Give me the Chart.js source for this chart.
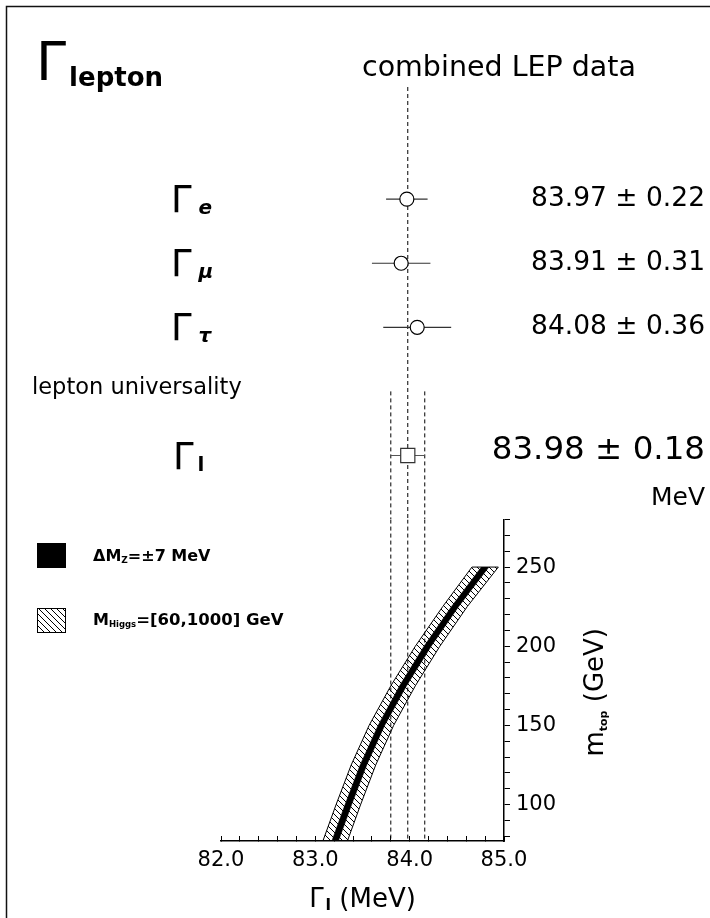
<!DOCTYPE html>
<html><head><meta charset="utf-8">
<script src="https://cdn.jsdelivr.net/npm/chart.js@4.4.1/dist/chart.umd.min.js"></script>
<style>html,body{margin:0;padding:0;background:#fff;}canvas{display:block;}</style>
</head><body>
<canvas id="c" width="710" height="918"></canvas>
<script>
// ---------------- data ----------------
const measNames   = ['e', 'μ', 'τ'];
const measValues  = [83.97, 83.91, 84.08];
const measErrors  = [0.22, 0.31, 0.36];
const measRows    = [0, 1, 2];
const universalityRow = 3;
const combinedName  = 'l';
const combinedValue = 83.98;
const combinedError = 0.18;
const combinedRow   = 4;

const mtopValues    = [77, 100, 125, 150, 175, 200, 225, 250];
const higgsBandLow  = [83.08, 83.22, 83.38, 83.57, 83.80, 84.06, 84.35, 84.66];
const higgsBandHigh = [83.34, 83.48, 83.64, 83.83, 84.06, 84.32, 84.61, 84.94];
const mzBandLow     = [83.175, 83.315, 83.475, 83.665, 83.893, 84.152, 84.442, 84.760];
const mzBandHigh    = [83.245, 83.385, 83.545, 83.735, 83.967, 84.228, 84.518, 84.840];

const xTickLabels = ['82.0', '83.0', '84.0', '85.0'];
const yTickLabels = ['100', '150', '200', '250'];

// ---------------- style ----------------
const FONT = "'DejaVu Sans', sans-serif";
const X_MIN = 82, X_MAX = 85, Y_MIN = 77, Y_MAX = 280, ROW_MIN = -1.75, ROW_MAX = 5;

function makeHatch() {
  const s = 6, c = document.createElement('canvas');
  c.width = s; c.height = s;
  const g = c.getContext('2d');
  g.strokeStyle = '#000'; g.lineWidth = 1;
  g.beginPath();
  g.moveTo(0, 0); g.lineTo(s, s);
  g.moveTo(-1, s - 1); g.lineTo(1, s + 1);
  g.moveTo(s - 1, -1); g.lineTo(s + 1, 1);
  g.stroke();
  return document.getElementById('c').getContext('2d').createPattern(c, 'repeat');
}
const hatch = makeHatch();

const pts = (xs, ys) => xs.map((x, i) => ({x, y: ys[i]}));

const datasets = [];
datasets.push({label: 'measurements', data: measValues.map((v, i) => ({x: v, y: measRows[i]})),
  yAxisID: 'row', showLine: false, pointStyle: 'circle', pointRadius: 7, pointBorderWidth: 1.2,
  pointBackgroundColor: '#fff', pointBorderColor: '#000', order: 0});
datasets.push({label: 'lepton universality', data: [{x: combinedValue, y: combinedRow}],
  yAxisID: 'row', showLine: false, pointStyle: 'rect', pointRadius: 10, pointBorderWidth: 1.2,
  pointBackgroundColor: '#fff', pointBorderColor: '#333', order: 0});
measValues.forEach((v, i) => datasets.push({label: 'err ' + measNames[i],
  data: [{x: v - measErrors[i], y: measRows[i]}, {x: v + measErrors[i], y: measRows[i]}],
  yAxisID: 'row', borderColor: '#333', borderWidth: 1.2, pointRadius: 0, order: 1}));
datasets.push({label: 'err combined',
  data: [{x: combinedValue - combinedError, y: combinedRow}, {x: combinedValue + combinedError, y: combinedRow}],
  yAxisID: 'row', borderColor: '#555', borderWidth: 1.2, pointRadius: 0, order: 1});
// dashed reference lines (central value and +-1 sigma)
const dashed = {borderColor: '#000', borderWidth: 1, borderDash: [4, 3], pointRadius: 0, order: 2};
datasets.push(Object.assign({label: 'central upper', yAxisID: 'row',
  data: [{x: combinedValue, y: ROW_MIN}, {x: combinedValue, y: ROW_MAX}]}, dashed));
datasets.push(Object.assign({label: 'central lower', yAxisID: 'y',
  data: [{x: combinedValue, y: Y_MAX}, {x: combinedValue, y: Y_MIN}]}, dashed));
[-1, 1].forEach(sgn => {
  const xv = combinedValue + sgn * combinedError;
  datasets.push(Object.assign({label: 'sigma upper', yAxisID: 'row',
    data: [{x: xv, y: universalityRow}, {x: xv, y: ROW_MAX}]}, dashed));
  datasets.push(Object.assign({label: 'sigma lower', yAxisID: 'y',
    data: [{x: xv, y: Y_MAX}, {x: xv, y: Y_MIN}]}, dashed));
});
// SM prediction bands
datasets.push({label: 'ΔMZ low', indexAxis: 'y', yAxisID: 'y', data: pts(mzBandLow, mtopValues),
  borderColor: '#000', borderWidth: 0.5, pointRadius: 0, fill: false, order: 3});
datasets.push({label: 'ΔMZ = ±7 MeV', indexAxis: 'y', yAxisID: 'y', data: pts(mzBandHigh, mtopValues),
  borderColor: '#000', borderWidth: 0.5, pointRadius: 0, fill: '-1', backgroundColor: '#000', order: 3});
datasets.push({label: 'MHiggs low', indexAxis: 'y', yAxisID: 'y', data: pts(higgsBandLow, mtopValues),
  borderColor: '#000', borderWidth: 1, pointRadius: 0, fill: false, order: 4});
datasets.push({label: 'MHiggs = [60,1000] GeV', indexAxis: 'y', yAxisID: 'y', data: pts(higgsBandHigh, mtopValues),
  borderColor: '#000', borderWidth: 1, pointRadius: 0, fill: '-1', backgroundColor: hatch, order: 4});
const last = mtopValues.length - 1;
datasets.push({label: 'band top', yAxisID: 'y',
  data: [{x: higgsBandLow[last], y: mtopValues[last]}, {x: higgsBandHigh[last], y: mtopValues[last]}],
  borderColor: '#000', borderWidth: 1, pointRadius: 0, order: 4});

function drawRich(ctx, parts, x, y, align) {
  let w = 0;
  parts.forEach(p => { ctx.font = p.font; p.w = ctx.measureText(p.text).width + (p.gap || 0); w += p.w; });
  let cx = align === 'right' ? x - w : align === 'center' ? x - w / 2 : x;
  ctx.textAlign = 'left'; ctx.textBaseline = 'alphabetic';
  parts.forEach(p => { ctx.font = p.font; ctx.fillText(p.text, cx + (p.gap || 0), y + (p.dy || 0)); cx += p.w; });
}
const f = (size, style) => (style ? style + ' ' : '') + size + 'px ' + FONT;

const textPlugin = {
  id: 'texts',
  afterDraw(chart) {
    const ctx = chart.ctx, row = chart.scales.row, xs = chart.scales.x, ys = chart.scales.y;
    ctx.save();
    ctx.fillStyle = '#000';
    // frame
    ctx.strokeStyle = '#111'; ctx.lineWidth = 1.5;
    ctx.beginPath(); ctx.moveTo(6.5, 918); ctx.lineTo(6.5, 6.5); ctx.lineTo(712, 6.5); ctx.stroke();
    // title
    drawRich(ctx, [{text: 'Γ', font: f(54)}, {text: 'lepton', font: f(26, 'bold'), dy: 6, gap: 3}], 36, 80, 'left');
    drawRich(ctx, [{text: 'combined LEP data', font: f(28.5)}], 362, 76, 'left');
    // measurements
    measNames.forEach((n, i) => {
      const y = row.getPixelForValue(measRows[i]);
      drawRich(ctx, [{text: 'Γ', font: f(37)}, {text: n, font: f(20, 'italic bold'), dy: 2, gap: 7}], 171, y + 13, 'left');
      drawRich(ctx, [{text: measValues[i].toFixed(2) + ' ± ' + measErrors[i].toFixed(2), font: f(26.5)}], 705, y + 7, 'right');
    });
    const yu = row.getPixelForValue(universalityRow);
    drawRich(ctx, [{text: 'lepton universality', font: f(22.5)}], 32, yu + 3, 'left');
    const yc = row.getPixelForValue(combinedRow);
    drawRich(ctx, [{text: 'Γ', font: f(37)}, {text: combinedName, font: f(20, 'bold'), dy: 2, gap: 4}], 173, yc + 14, 'left');
    drawRich(ctx, [{text: combinedValue.toFixed(2) + ' ± ' + combinedError.toFixed(2), font: f(32.5)}], 705, yc + 4, 'right');
    drawRich(ctx, [{text: 'MeV', font: f(25)}], 705, yc + 50, 'right');
    // legend
    ctx.fillStyle = '#000';
    ctx.fillRect(37, 543, 29, 25);
    drawRich(ctx, [{text: 'ΔM', font: f(16, 'bold')}, {text: 'Z', font: f(9, 'bold'), dy: 2},
                   {text: '=±7 MeV', font: f(16, 'bold')}], 93, 561, 'left');
    ctx.fillStyle = hatch; ctx.fillRect(37, 608, 29, 25);
    ctx.strokeStyle = '#000'; ctx.lineWidth = 1; ctx.strokeRect(37.5, 608.5, 28, 24);
    ctx.fillStyle = '#000';
    drawRich(ctx, [{text: 'M', font: f(16, 'bold')}, {text: 'Higgs', font: f(8.5, 'bold'), dy: 2},
                   {text: '=[60,1000] GeV', font: f(16.5, 'bold')}], 93, 625, 'left');
    // axis titles
    drawRich(ctx, [{text: 'Γ', font: f(26)}, {text: 'l', font: f(16, 'bold'), dy: 3, gap: 2}, {text: ' (MeV)', font: f(26)}],
             (xs.left + xs.right) / 2, 907, 'center');
    ctx.save();
    ctx.translate(603, (ys.top + ys.bottom) / 2 + 12);
    ctx.rotate(-Math.PI / 2);
    drawRich(ctx, [{text: 'm', font: f(26)}, {text: 'top', font: f(11, 'bold'), dy: 4}, {text: ' (GeV)', font: f(26)}], 0, 0, 'center');
    ctx.restore();
    ctx.restore();
  }
};

new Chart(document.getElementById('c'), {
  type: 'line',
  data: {datasets},
  plugins: [textPlugin],
  options: {
    responsive: false, animation: false, devicePixelRatio: 1,
    layout: {padding: {left: 221, top: 87, right: 0, bottom: 0}},
    plugins: {legend: {display: false}, tooltip: {enabled: false}},
    scales: {
      x: {type: 'linear', position: 'bottom', min: X_MIN, max: X_MAX,
        ticks: {stepSize: 0.2, autoSkip: false, maxRotation: 0, padding: 12, color: '#000',
          font: {family: FONT, size: 21},
          callback: v => { const l = xTickLabels.find(t => Math.abs(parseFloat(t) - v) < 1e-6); return l || ''; }},
        grid: {drawOnChartArea: false, tickLength: -5, color: '#000', lineWidth: 1},
        border: {display: true, color: '#000', width: 1.5},
        afterFit: s => { s.height = 77; }},
      row: {type: 'linear', axis: 'y', position: 'right', stack: 'v', stackWeight: 432, weight: 0,
        reverse: true, min: ROW_MIN, max: ROW_MAX, display: false},
      y: {type: 'linear', axis: 'y', position: 'right', stack: 'v', stackWeight: 321, weight: 1,
        min: Y_MIN, max: Y_MAX,
        ticks: {stepSize: 10, includeBounds: false, autoSkip: false, padding: 6, color: '#000',
          font: {family: FONT, size: 21},
          callback: v => yTickLabels.includes(String(v)) ? String(v) : ''},
        grid: {drawOnChartArea: false, tickLength: 6, color: '#000', lineWidth: 1},
        border: {display: true, color: '#000', width: 1.5},
        afterFit: s => { s.width = 206; }}
    }
  }
});
</script>
</body></html>
